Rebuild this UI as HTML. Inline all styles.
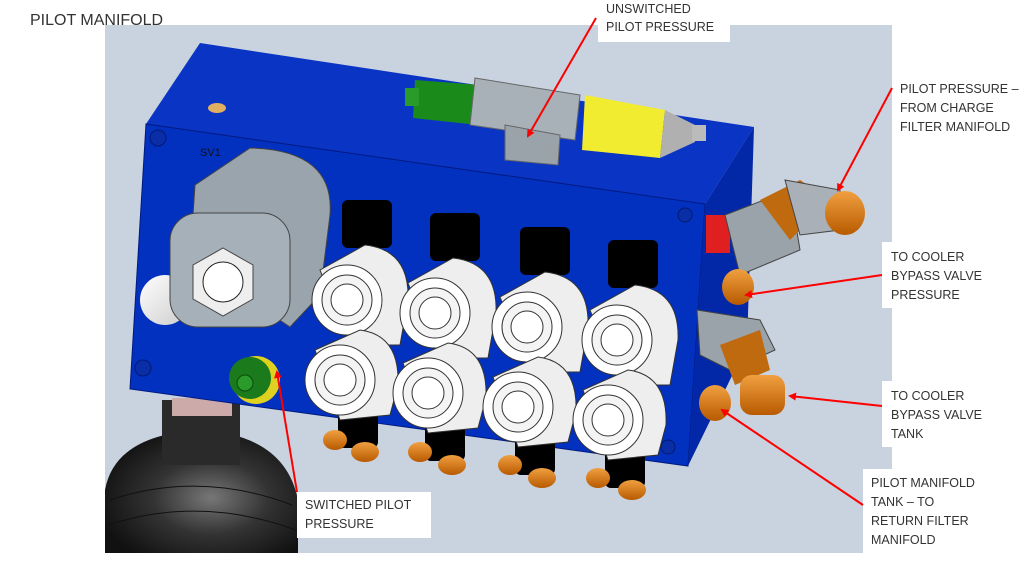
<!DOCTYPE html>
<html><head><meta charset="utf-8"><style>
html,body{margin:0;padding:0;background:#fff;}
svg{display:block;}
text{font-family:"Liberation Sans",sans-serif;fill:#333;}
</style></head><body>
<svg width="1024" height="567" viewBox="0 0 1024 567" xmlns="http://www.w3.org/2000/svg">
<defs>
<radialGradient id="acc" cx="0.55" cy="0.55" r="0.6"><stop offset="0" stop-color="#777"/><stop offset="0.5" stop-color="#333"/><stop offset="1" stop-color="#111"/></radialGradient>
<linearGradient id="org" x1="0" y1="0" x2="0" y2="1"><stop offset="0" stop-color="#f0a040"/><stop offset="1" stop-color="#b85a00"/></linearGradient>
<linearGradient id="wht" x1="0" y1="0" x2="1" y2="1"><stop offset="0" stop-color="#fff"/><stop offset="1" stop-color="#ccc"/></linearGradient>
<marker id="ah" markerWidth="8" markerHeight="8" refX="6" refY="4" orient="auto" markerUnits="userSpaceOnUse"><path d="M0,0 L8,4 L0,8 z" fill="#f00"/></marker>
</defs>
<rect x="105" y="25" width="787" height="528" fill="#c9d2df"/>
<!-- accumulator -->
<path d="M105,553 L105,490 Q115,435 200,430 Q285,435 298,500 L298,553 Z" fill="url(#acc)"/>
<path d="M110,500 Q200,470 292,505 M108,525 Q200,495 296,530" stroke="#111" fill="none"/>
<rect x="162" y="400" width="78" height="65" fill="#2a2a2a"/>
<rect x="172" y="398" width="60" height="18" fill="#caa"/>
<!-- block -->
<polygon points="146,124 200,43 754,127 705,204" fill="#0a34c4"/>
<polygon points="146,124 705,204 688,466 130,389" fill="#0231c0" stroke="#001a80" stroke-width="1"/>
<polygon points="705,204 754,127 747,345 688,466" fill="#0228a8"/>
<ellipse cx="217" cy="108" rx="9" ry="5" fill="#e0b060"/>
<circle cx="158" cy="138" r="8" fill="#0a2ea8" stroke="#001a70"/>
<circle cx="143" cy="368" r="8" fill="#0a2ea8" stroke="#001a70"/>
<circle cx="685" cy="215" r="7" fill="#0a2ea8" stroke="#001a70"/>
<circle cx="668" cy="447" r="7" fill="#0a2ea8" stroke="#001a70"/>
<text x="200" y="156" font-size="11" style="fill:#111">SV1</text>
<!-- top fitting -->
<polygon points="415,80 480,85 478,125 413,118" fill="#1a8a1a"/>
<rect x="405" y="88" width="14" height="18" fill="#2a9a2a"/>
<polygon points="475,78 580,95 575,140 470,125" fill="#a8b0b8" stroke="#666"/>
<polygon points="505,125 560,135 558,165 505,160" fill="#9aa2aa" stroke="#666"/>
<polygon points="585,95 665,110 660,158 582,150" fill="#f2ec30"/>
<polygon points="665,110 695,125 695,142 660,158" fill="#b0b0b0"/>
<rect x="692" y="125" width="14" height="16" fill="#bbb"/>
<!-- SV1 cylinder -->
<path d="M195,185 L250,148 Q335,150 330,215 L320,295 L290,327 L190,260 Z" fill="#9aa4ac" stroke="#444"/>
<circle cx="165" cy="300" r="25" fill="url(#wht)"/>
<rect x="170" y="213" width="120" height="114" rx="28" fill="#a6b0b8" stroke="#444"/>
<polygon points="223,248 253,265 253,299 223,316 193,299 193,265" fill="#eee" stroke="#444"/>
<circle cx="223" cy="282" r="20" fill="#fff" stroke="#222"/>
<circle cx="256" cy="380" r="24" fill="#e0d020"/>
<circle cx="250" cy="378" r="21" fill="#1b7a1b"/>
<circle cx="245" cy="383" r="8" fill="#2a9a2a" stroke="#0a4a0a"/>
<!-- solenoid connectors -->
<g>
<rect x="342" y="200" width="50" height="48" rx="6" fill="#000"/><rect x="338" y="408" width="40" height="40" rx="6" fill="#000"/><ellipse cx="335" cy="440" rx="12" ry="10" fill="url(#org)"/><ellipse cx="365" cy="452" rx="14" ry="10" fill="url(#org)"/>
<rect x="430" y="213" width="50" height="48" rx="6" fill="#000"/><rect x="425" y="421" width="40" height="40" rx="6" fill="#000"/><ellipse cx="420" cy="452" rx="12" ry="10" fill="url(#org)"/><ellipse cx="452" cy="465" rx="14" ry="10" fill="url(#org)"/>
<rect x="520" y="227" width="50" height="48" rx="6" fill="#000"/><rect x="515" y="435" width="40" height="40" rx="6" fill="#000"/><ellipse cx="510" cy="465" rx="12" ry="10" fill="url(#org)"/><ellipse cx="542" cy="478" rx="14" ry="10" fill="url(#org)"/>
<rect x="608" y="240" width="50" height="48" rx="6" fill="#000"/><rect x="605" y="448" width="40" height="40" rx="6" fill="#000"/><ellipse cx="598" cy="478" rx="12" ry="10" fill="url(#org)"/><ellipse cx="632" cy="490" rx="14" ry="10" fill="url(#org)"/>
</g>
<g stroke="#333" stroke-width="1">
<path d="M320,270 L365,245 Q410,250 408,300 L400,345 L350,345 Z" fill="#eee"/>
<path d="M408,283 L453,258 Q498,263 496,313 L488,358 L438,358 Z" fill="#eee"/>
<path d="M500,297 L545,272 Q590,277 588,327 L580,372 L530,372 Z" fill="#eee"/>
<path d="M590,310 L635,285 Q680,290 678,340 L670,385 L620,385 Z" fill="#eee"/>
<circle cx="347" cy="300" r="35" fill="#fff"/><circle cx="347" cy="300" r="25" fill="#f4f4f4"/><circle cx="347" cy="300" r="16" fill="#fff"/>
<circle cx="435" cy="313" r="35" fill="#fff"/><circle cx="435" cy="313" r="25" fill="#f4f4f4"/><circle cx="435" cy="313" r="16" fill="#fff"/>
<circle cx="527" cy="327" r="35" fill="#fff"/><circle cx="527" cy="327" r="25" fill="#f4f4f4"/><circle cx="527" cy="327" r="16" fill="#fff"/>
<circle cx="617" cy="340" r="35" fill="#fff"/><circle cx="617" cy="340" r="25" fill="#f4f4f4"/><circle cx="617" cy="340" r="16" fill="#fff"/>
<path d="M315,350 L360,330 Q400,335 398,385 L390,415 L340,420 Z" fill="#eee"/>
<path d="M403,363 L448,343 Q488,348 486,398 L478,428 L428,433 Z" fill="#eee"/>
<path d="M493,377 L538,357 Q578,362 576,412 L568,442 L518,447 Z" fill="#eee"/>
<path d="M583,390 L628,370 Q668,375 666,425 L658,455 L608,460 Z" fill="#eee"/>
<circle cx="340" cy="380" r="35" fill="#fff"/><circle cx="340" cy="380" r="25" fill="#f4f4f4"/><circle cx="340" cy="380" r="16" fill="#fff"/>
<circle cx="428" cy="393" r="35" fill="#fff"/><circle cx="428" cy="393" r="25" fill="#f4f4f4"/><circle cx="428" cy="393" r="16" fill="#fff"/>
<circle cx="518" cy="407" r="35" fill="#fff"/><circle cx="518" cy="407" r="25" fill="#f4f4f4"/><circle cx="518" cy="407" r="16" fill="#fff"/>
<circle cx="608" cy="420" r="35" fill="#fff"/><circle cx="608" cy="420" r="25" fill="#f4f4f4"/><circle cx="608" cy="420" r="16" fill="#fff"/>
</g>
<!-- right fittings -->
<rect x="706" y="215" width="24" height="38" fill="#e02020"/>
<polygon points="725,215 790,190 800,250 740,275" fill="#9aa2aa" stroke="#444"/>
<polygon points="760,200 800,180 830,200 790,240" fill="#c06a10"/>
<polygon points="785,180 840,190 840,230 800,235" fill="#aab0b8" stroke="#444"/>
<ellipse cx="845" cy="213" rx="20" ry="22" fill="url(#org)"/>
<ellipse cx="738" cy="287" rx="16" ry="18" fill="url(#org)"/>
<polygon points="697,310 760,320 775,350 730,370 700,355" fill="#9aa2aa" stroke="#444"/>
<polygon points="720,345 760,330 770,370 735,385" fill="#c06a10"/>
<rect x="740" y="375" width="45" height="40" rx="12" fill="url(#org)"/>
<ellipse cx="715" cy="403" rx="16" ry="18" fill="url(#org)"/>
<!-- labels -->
<text x="30" y="25" font-size="16" style="fill:#333">PILOT MANIFOLD</text>
<rect x="598" y="0" width="132" height="42" fill="#fff"/>
<text x="606" y="13" font-size="12.5">UNSWITCHED</text>
<text x="606" y="31" font-size="12.5">PILOT PRESSURE</text>
<rect x="892" y="75" width="132" height="65" fill="#fff"/>
<text x="900" y="93" font-size="12.5">PILOT PRESSURE –</text>
<text x="900" y="112" font-size="12.5">FROM CHARGE</text>
<text x="900" y="131" font-size="12.5">FILTER MANIFOLD</text>
<rect x="882" y="242" width="110" height="66" fill="#fff"/>
<text x="891" y="261" font-size="12.5">TO COOLER</text>
<text x="891" y="280" font-size="12.5">BYPASS VALVE</text>
<text x="891" y="299" font-size="12.5">PRESSURE</text>
<rect x="882" y="381" width="110" height="66" fill="#fff"/>
<text x="891" y="400" font-size="12.5">TO COOLER</text>
<text x="891" y="419" font-size="12.5">BYPASS VALVE</text>
<text x="891" y="438" font-size="12.5">TANK</text>
<rect x="863" y="469" width="130" height="86" fill="#fff"/>
<text x="871" y="487" font-size="12.5">PILOT MANIFOLD</text>
<text x="871" y="506" font-size="12.5">TANK – TO</text>
<text x="871" y="525" font-size="12.5">RETURN FILTER</text>
<text x="871" y="544" font-size="12.5">MANIFOLD</text>
<rect x="297" y="492" width="134" height="46" fill="#fff"/>
<text x="305" y="509" font-size="12.5">SWITCHED PILOT</text>
<text x="305" y="528" font-size="12.5">PRESSURE</text>
<!-- arrows -->
<g stroke="#f00" stroke-width="2" fill="none" marker-end="url(#ah)">
<line x1="596" y1="18" x2="528" y2="136"/>
<line x1="892" y1="88" x2="838" y2="190"/>
<line x1="882" y1="275" x2="746" y2="295"/>
<line x1="882" y1="406" x2="790" y2="396"/>
<line x1="863" y1="505" x2="722" y2="410"/>
<line x1="297" y1="492" x2="277" y2="372"/>
</g>
</svg>
</body></html>
